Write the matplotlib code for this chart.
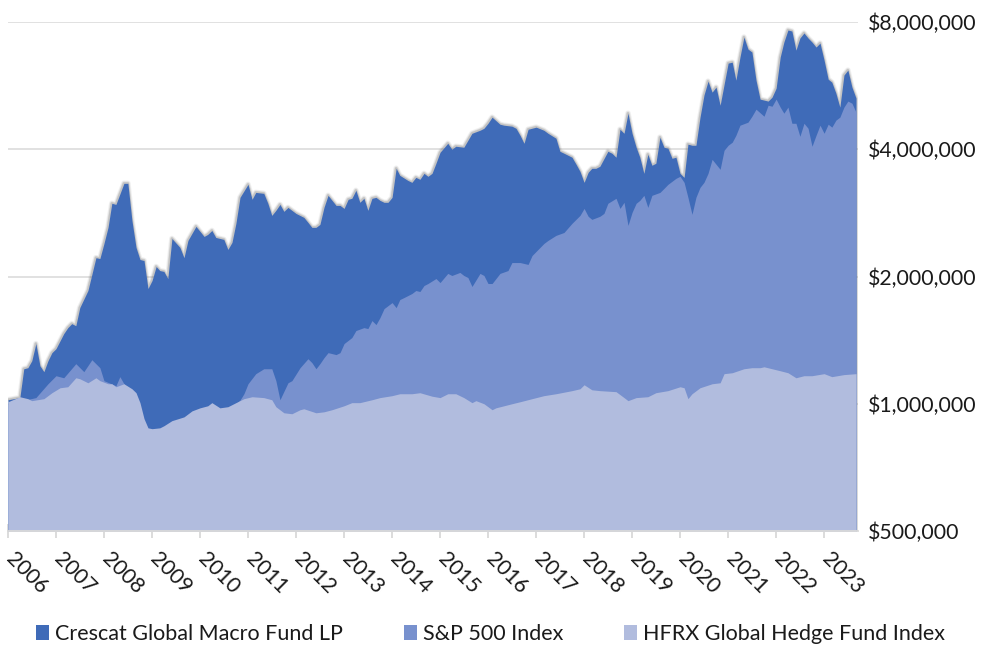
import matplotlib
matplotlib.use("Agg")
import matplotlib.pyplot as plt
import matplotlib.dates as mdates
from matplotlib.patches import Patch
from matplotlib.ticker import FixedLocator, FuncFormatter, NullLocator
from matplotlib.transforms import ScaledTranslation
import pandas as pd

plt.rcParams['font.family'] = ['Lato', 'DejaVu Sans']

# months counted from Jan 2006, values in $ millions (growth of $1M)
crescat_month = [0, 3, 4, 5, 6, 7, 8, 9, 10, 11, 12, 14, 15, 16, 17, 18, 20, 22, 23, 24,
                 25, 26, 27, 29, 30, 31, 32, 33, 34, 35, 36, 37, 38, 39, 40, 41, 43, 44, 45, 47,
                 49, 50, 51, 52, 54, 55, 56, 57, 58, 60, 61, 62, 64, 65, 66, 67, 68, 69, 70, 72,
                 74, 75, 76, 77, 78, 79, 80, 82, 83, 84, 85, 86, 87, 88, 89, 90, 91, 92, 93, 94,
                 95, 96, 97, 98, 100, 101, 102, 103, 104, 105, 106, 107, 108, 110, 111, 112, 114, 115, 116, 118,
                 119, 120, 121, 123, 124, 126, 127, 128, 129, 130, 132, 134, 135, 137, 138, 139, 141, 142, 143, 144,
                 145, 146, 147, 148, 150, 151, 152, 153, 154, 155, 156, 157, 158, 159, 160, 161, 162, 163, 164, 165,
                 166, 167, 168, 169, 170, 171, 172, 173, 174, 175, 176, 177, 178, 180, 181, 182, 183, 184, 185, 186,
                 187, 188, 190, 191, 192, 193, 194, 195, 196, 197, 198, 199, 200, 201, 202, 203, 204, 205, 206, 207,
                 208, 209, 210, 211, 212]
crescat_musd = [1.022, 1.034, 1.210, 1.217, 1.264, 1.388, 1.230, 1.191, 1.264, 1.321, 1.350, 1.465, 1.514, 1.547, 1.530, 1.688, 1.853, 2.216, 2.206, 2.394,
                2.614, 2.980, 2.962, 3.322, 3.322, 2.714, 2.344, 2.194, 2.182, 1.873, 1.957, 2.112, 2.066, 2.056, 1.978, 2.460, 2.344, 2.216, 2.434, 2.628,
                2.488, 2.516, 2.570, 2.474, 2.448, 2.318, 2.408, 2.672, 3.078, 3.304, 3.046, 3.162, 3.146, 2.980, 2.790, 2.868, 2.962, 2.852, 2.914, 2.820,
                2.760, 2.686, 2.614, 2.614, 2.656, 2.914, 3.112, 2.946, 2.946, 2.898, 3.046, 3.062, 3.198, 2.996, 3.062, 2.868, 3.062, 3.078, 3.028, 2.996,
                2.996, 3.078, 3.606, 3.470, 3.376, 3.340, 3.432, 3.396, 3.508, 3.452, 3.508, 3.706, 3.934, 4.132, 4.000, 4.066, 4.044, 4.200, 4.364, 4.436,
                4.484, 4.608, 4.764, 4.584, 4.560, 4.536, 4.484, 4.316, 4.132, 4.460, 4.512, 4.436, 4.364, 4.248, 3.956, 3.914, 3.830, 3.686, 3.546, 3.340,
                3.528, 3.606, 3.606, 3.646, 3.956, 3.914, 3.830, 4.460, 4.364, 4.868, 4.364, 4.044, 3.830, 3.508, 3.892, 3.666, 3.706, 4.272, 4.044, 4.022,
                3.808, 3.830, 3.508, 3.432, 4.112, 4.088, 4.088, 4.764, 5.372, 5.796, 5.460, 5.612, 5.084, 6.396, 6.428, 5.828, 6.608, 7.372, 6.904, 6.792,
                5.828, 5.256, 5.200, 5.312, 5.580, 6.608, 7.172, 7.660, 7.616, 6.864, 7.332, 7.536, 7.332, 7.172, 6.980, 7.132, 6.500, 5.860, 5.764, 5.428,
                5.032, 5.992, 6.156, 5.612, 5.284]

sp500_month = [0, 7, 10, 12, 14, 17, 19, 21, 23, 24, 27, 28, 29, 30, 31, 32, 33, 34, 36, 37,
               38, 40, 42, 44, 46, 48, 50, 51, 52, 53, 55, 56, 57, 58, 59, 60, 62, 64, 66, 67,
               68, 70, 71, 73, 75, 76, 77, 78, 79, 80, 82, 83, 84, 86, 87, 89, 90, 91, 92, 93,
               94, 96, 97, 98, 99, 101, 102, 103, 104, 105, 107, 108, 110, 111, 113, 114, 115, 116, 118, 119,
               120, 121, 123, 125, 126, 128, 130, 131, 134, 135, 137, 139, 141, 143, 144, 145, 146, 148, 149, 150,
               152, 153, 154, 155, 156, 157, 158, 159, 160, 161, 163, 164, 165, 167, 168, 169, 170, 171, 172, 173,
               174, 175, 176, 177, 178, 179, 180, 181, 182, 183, 185, 186, 187, 189, 190, 191, 192, 193, 194, 195,
               196, 197, 198, 199, 200, 201, 202, 203, 204, 205, 206, 207, 208, 209, 210, 211, 212]
sp500_musd = [1.000, 1.034, 1.115, 1.165, 1.152, 1.244, 1.191, 1.271, 1.217, 1.134, 1.103, 1.159, 1.115, 1.080, 1.070, 0.970, 0.810, 0.750, 0.700, 0.620,
              0.670, 0.790, 0.850, 0.900, 0.930, 0.920, 0.970, 1.000, 0.940, 0.890, 0.950, 0.930, 1.000, 1.020, 1.056, 1.115, 1.178, 1.210, 1.210, 1.134,
              1.022, 1.121, 1.134, 1.217, 1.278, 1.251, 1.210, 1.244, 1.285, 1.321, 1.307, 1.321, 1.388, 1.434, 1.490, 1.514, 1.506, 1.573, 1.539, 1.599,
              1.679, 1.735, 1.688, 1.764, 1.783, 1.823, 1.853, 1.843, 1.904, 1.925, 1.978, 1.935, 2.034, 2.011, 2.045, 2.011, 1.989, 1.894, 2.034, 2.011,
              1.925, 1.925, 2.034, 2.066, 2.158, 2.158, 2.136, 2.242, 2.394, 2.434, 2.502, 2.542, 2.672, 2.790, 2.898, 2.776, 2.730, 2.776, 2.820, 2.980,
              3.062, 2.898, 2.996, 2.642, 2.836, 2.980, 3.028, 3.112, 2.914, 3.112, 3.162, 3.232, 3.304, 3.414, 3.452, 3.340, 3.078, 2.806, 3.078, 3.250,
              3.340, 3.508, 3.786, 3.686, 3.586, 3.978, 4.088, 4.156, 4.316, 4.560, 4.636, 4.788, 4.976, 4.788, 5.084, 5.056, 5.256, 5.032, 4.868, 5.032,
              4.608, 4.608, 4.292, 4.608, 4.484, 4.066, 4.316, 4.560, 4.364, 4.584, 4.512, 4.688, 4.764, 5.032, 5.200, 5.140, 4.892]

hfrx_month = [0, 3, 5, 6, 9, 11, 13, 15, 17, 18, 20, 22, 23, 25, 26, 27, 29, 31, 32, 33,
              34, 35, 36, 38, 39, 41, 44, 46, 48, 50, 51, 53, 55, 57, 59, 61, 64, 66, 67, 69,
              71, 73, 74, 77, 79, 81, 84, 86, 88, 91, 93, 96, 98, 101, 103, 106, 108, 110, 112, 114,
              116, 117, 119, 121, 122, 126, 128, 131, 134, 137, 141, 143, 144, 146, 148, 152, 154, 155, 157, 160,
              162, 165, 168, 169, 170, 171, 173, 176, 178, 179, 181, 184, 186, 188, 189, 191, 193, 195, 197, 199,
              201, 204, 206, 209, 212]
hfrx_musd = [1.011, 1.039, 1.028, 1.017, 1.028, 1.062, 1.091, 1.097, 1.152, 1.146, 1.121, 1.152, 1.134, 1.115, 1.115, 1.097, 1.115, 1.085, 1.062, 1.006,
             0.922, 0.877, 0.873, 0.877, 0.887, 0.912, 0.931, 0.962, 0.978, 0.989, 1.006, 0.978, 0.984, 1.006, 1.028, 1.039, 1.034, 1.022, 0.984, 0.952,
             0.947, 0.968, 0.973, 0.952, 0.957, 0.968, 0.989, 1.006, 1.006, 1.022, 1.034, 1.045, 1.056, 1.056, 1.062, 1.042, 1.034, 1.056, 1.056, 1.034,
             1.006, 1.017, 1.000, 0.968, 0.978, 1.000, 1.011, 1.028, 1.045, 1.056, 1.074, 1.085, 1.109, 1.079, 1.074, 1.068, 1.034, 1.017, 1.034, 1.039,
             1.062, 1.074, 1.097, 1.091, 1.028, 1.056, 1.091, 1.115, 1.121, 1.178, 1.184, 1.210, 1.217, 1.217, 1.223, 1.210, 1.197, 1.184, 1.152, 1.165,
             1.165, 1.178, 1.159, 1.172, 1.178]

series_names = ["Crescat Global Macro Fund LP", "S&P 500 Index", "HFRX Global Hedge Fund Index"]
series_colors = ["#3F6BB8", "#7891CE", "#B1BCDE"]
y_ticks = [500000, 1000000, 2000000, 4000000, 8000000]

start = pd.Timestamp("2006-01-01")


def month_dates(months):
    return [start + pd.DateOffset(months=m) for m in months]


fig = plt.figure(figsize=(9.97, 6.5), dpi=100)
ax = fig.add_axes([8 / 997, 1 - 531 / 650, 850 / 997, 509 / 650])
ax.set_yscale("log")
ax.set_ylim(y_ticks[0], y_ticks[-1])
ax.set_xlim(start, start + pd.DateOffset(months=212) + pd.Timedelta(days=15))

floor = y_ticks[0] / 2
series = [(crescat_month, crescat_musd), (sp500_month, sp500_musd), (hfrx_month, hfrx_musd)]
for i, (months, vals) in enumerate(series):
    d = month_dates(months)
    v = [x * 1e6 for x in vals]
    if i == 0:
        # soft shadow along the edge of the fund series
        for lw, a in [(4.0, 0.10), (2.6, 0.16), (1.6, 0.22)]:
            ax.plot(d + [d[-1]], v + [floor], color="#6E6E6E", alpha=a, lw=lw,
                    zorder=1, solid_joinstyle="round")
    ax.fill_between(d, v, floor, color=series_colors[i], lw=0, zorder=2 + i)

ax.yaxis.set_major_locator(FixedLocator(y_ticks))
ax.yaxis.set_minor_locator(NullLocator())
ax.yaxis.set_major_formatter(FuncFormatter(lambda y, _: "${:,.0f}".format(y)))
ax.yaxis.tick_right()
ax.tick_params(axis="y", length=0, pad=7, labelsize=15.3, colors="#1A1A1A")
ax.grid(axis="y", color="#D9D9D9", lw=1.1, zorder=0)
ax.set_axisbelow(True)

ax.xaxis.set_major_locator(mdates.YearLocator())
ax.xaxis.set_major_formatter(mdates.DateFormatter("%Y"))
ax.tick_params(axis="x", direction="inout", length=10, width=1.3, color="#D9D9D9",
               labelsize=15.3, pad=8, labelcolor="#1A1A1A")
shift = ScaledTranslation(8 / 100, 0, fig.dpi_scale_trans)
for lab in ax.get_xticklabels():
    lab.set_rotation(-45)
    lab.set_ha("left")
    lab.set_va("top")
    lab.set_rotation_mode("anchor")
    lab.set_transform(lab.get_transform() + shift)

for s in ["top", "left", "right"]:
    ax.spines[s].set_visible(False)
ax.spines["bottom"].set_color("#D9D9D9")
ax.spines["bottom"].set_linewidth(1.3)
ax.spines["bottom"].set_zorder(6)

handles = [Patch(facecolor=c, edgecolor="none") for c in series_colors]
fig.legend(handles, series_names, loc="center", bbox_to_anchor=(0.492, 1 - 634 / 650),
           ncol=3, frameon=False, fontsize=15.5, handlelength=0.6, handleheight=0.75,
           handletextpad=0.3, columnspacing=2.8, labelcolor="#1A1A1A")

fig.savefig("out.png", dpi=100)
